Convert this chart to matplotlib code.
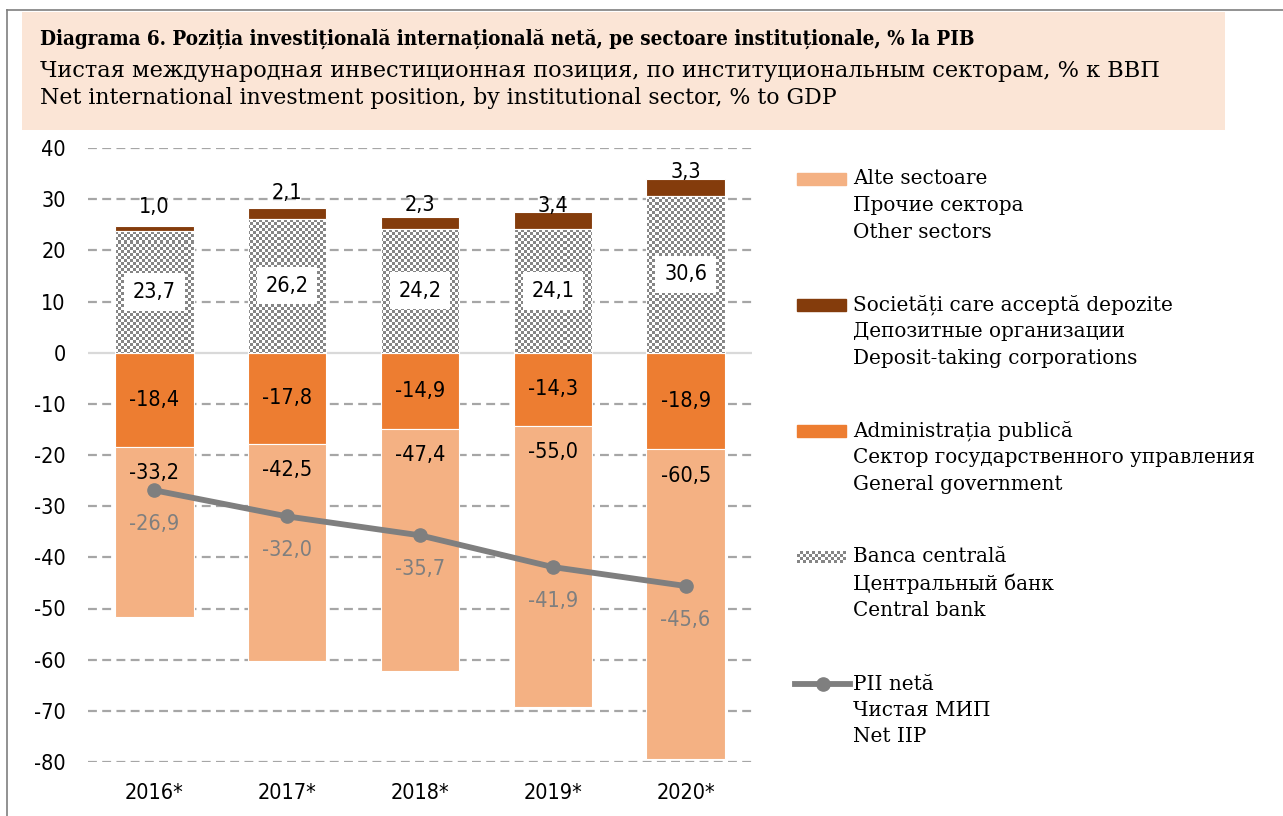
import numpy as np
import matplotlib.pyplot as plt
from matplotlib.colors import ListedColormap
from matplotlib.patches import Rectangle
from matplotlib.lines import Line2D

# data (% of GDP)
years = ['2016*', '2017*', '2018*', '2019*', '2020*']
other_sectors = [-33.2, -42.5, -47.4, -55.0, -60.5]
deposit_corps = [1.0, 2.1, 2.3, 3.4, 3.3]
general_gov = [-18.4, -17.8, -14.9, -14.3, -18.9]
central_bank = [23.7, 26.2, 24.2, 24.1, 30.6]
net_iip = [-26.9, -32.0, -35.7, -41.9, -45.6]
y_ticks = list(range(-80, 41, 10))

title_lines = [
    'Diagrama 6. Poziția investițională internațională netă, pe sectoare instituționale, % la PIB',
    'Чистая международная инвестиционная позиция, по институциональным секторам, % к ВВП',
    'Net international investment position, by institutional sector, % to GDP',
]
legend_labels = [
    ['Alte sectoare', 'Прочие сектора', 'Other sectors'],
    ['Societăți care acceptă depozite', 'Депозитные организации', 'Deposit-taking corporations'],
    ['Administrația publică', 'Сектор государственного управления', 'General government'],
    ['Banca centrală', 'Центральный банк', 'Central bank'],
    ['PII netă', 'Чистая МИП', 'Net IIP'],
]

# deposit labels were nudged by hand in the original (points above bar top)
DEP_LABEL_DY = [14, 11, 9, 4.5, 5]

C_OTHER = '#F4B183'
C_DEPOSIT = '#843C0C'
C_GOV = '#ED7D31'
C_LINE = '#7F7F7F'
NUM_FONT = dict(family=['DejaVu Sans'], fontstretch='condensed', fontsize=15.5)
TXT_FONT = ['DejaVu Serif']
W, H = 1283, 816


def fmt(v):
    return f'{v:.1f}'.replace('.', ',')


def fx(px):
    return px / W


def fy(py):
    return 1 - py / H


checker = ListedColormap(['white', '#858585'])


def checker_board(ny, nx):
    return np.indices((ny, nx)).sum(axis=0) % 2


fig = plt.figure(figsize=(W / 100, H / 100), dpi=100)

# page frame + header box
fig.add_artist(Line2D([fx(7), fx(7)], [fy(10), 0], color='#7f7f7f', lw=1.2))
fig.add_artist(Line2D([fx(7), 1], [fy(10), fy(10)], color='#7f7f7f', lw=1.2))
fig.add_artist(Rectangle((fx(22), fy(130)), fx(1225 - 22), (130 - 12) / H,
                         facecolor='#FBE5D6', edgecolor='none'))
fig.text(fx(40), fy(39), title_lines[0], fontsize=14.8, fontweight='bold',
         fontstretch='condensed', family=TXT_FONT, va='center')
fig.text(fx(40), fy(71), title_lines[1], fontsize=16.2, family=TXT_FONT, va='center')
fig.text(fx(40), fy(98), title_lines[2], fontsize=15.8, family=TXT_FONT, va='center')

ax = fig.add_axes([fx(88), fy(762), fx(752 - 88), (762 - 148) / H])
x = np.arange(len(years))
bw = 0.59

ax.set_xlim(-0.5, len(years) - 0.5)
ax.set_ylim(-80, 40)
for t in y_ticks:
    if t != 0:
        ax.axhline(t, color='#a6a6a6', lw=1.6, ls=(0, (4, 2.4)), zorder=0)
ax.axhline(0, color='#d9d9d9', lw=1.6, zorder=0)

gov_bars = ax.bar(x, general_gov, bw, color=C_GOV, edgecolor='white', lw=0.8, zorder=2)
other_bars = ax.bar(x, other_sectors, bw, bottom=general_gov, color=C_OTHER,
                    edgecolor='white', lw=0.8, zorder=2)
cb_bars = ax.bar(x, central_bank, bw, facecolor='none', edgecolor='white', lw=0.8, zorder=3)
dep_bars = ax.bar(x, deposit_corps, bw, bottom=central_bank, color=C_DEPOSIT,
                  edgecolor='white', lw=0.8, zorder=2)

# checkerboard fill for the central bank bars
board = checker_board(205, 221)
for bar in cb_bars:
    im = ax.imshow(board, cmap=checker, extent=(-0.5, len(years) - 0.5, -80, 40),
                   aspect='auto', interpolation='nearest', zorder=2)
    im.set_clip_path(bar)

ax.plot(x, net_iip, color=C_LINE, lw=4.2, marker='o', ms=9.5, zorder=4)

for i in range(len(years)):
    ax.text(x[i], central_bank[i] / 2, fmt(central_bank[i]), ha='center', va='center',
            zorder=5, bbox=dict(boxstyle='square,pad=0.4', fc='white', ec='none'), **NUM_FONT)
    ax.annotate(fmt(deposit_corps[i]), (x[i], central_bank[i] + deposit_corps[i]),
                xytext=(0, DEP_LABEL_DY[i]), textcoords='offset points', ha='center',
                va='center', zorder=5, **NUM_FONT)
    ax.text(x[i], general_gov[i] / 2, fmt(general_gov[i]), ha='center', va='center',
            zorder=5, **NUM_FONT)
    ax.annotate(fmt(other_sectors[i]), (x[i], general_gov[i]),
                xytext=(0, -19), textcoords='offset points', ha='center', va='center',
                zorder=5, **NUM_FONT)
    ax.annotate(fmt(net_iip[i]), (x[i], net_iip[i]),
                xytext=(0, -24.5), textcoords='offset points', ha='center', va='center',
                color=C_LINE, zorder=5, **NUM_FONT)

ax.set_xticks(x)
ax.set_xticklabels(years, **NUM_FONT)
ax.set_yticks(y_ticks)
ax.set_yticklabels([str(t) for t in y_ticks], **NUM_FONT)
ax.tick_params(length=0, pad=15)
ax.tick_params(axis='y', pad=16)
for s in ax.spines.values():
    s.set_visible(False)

# legend built by hand: marker next to the first of three text lines
first_rows = [179, 305, 431, 557, 684]
patch_colors = [C_OTHER, C_DEPOSIT, C_GOV]
for k, (row, labels) in enumerate(zip(first_rows, legend_labels)):
    for j, lab in enumerate(labels):
        fig.text(fx(853), fy(row + j * 26.5), lab, fontsize=14.4, family=TXT_FONT, va='center')
    if k < 3:
        fig.add_artist(Rectangle((fx(797), fy(row + 6)), fx(49), 12 / H, color=patch_colors[k]))
    elif k == 3:
        hax = fig.add_axes([fx(797), fy(row + 6), fx(49), 12 / H])
        hax.imshow(checker_board(4, 16), cmap=checker, aspect='auto', interpolation='nearest')
        hax.axis('off')
    else:
        fig.add_artist(Line2D([fx(795), fx(822.5), fx(850)], [fy(row)] * 3, color=C_LINE,
                              lw=4.2, marker='o', ms=9.5, markevery=[1]))

fig.savefig('out.png', dpi=100)
